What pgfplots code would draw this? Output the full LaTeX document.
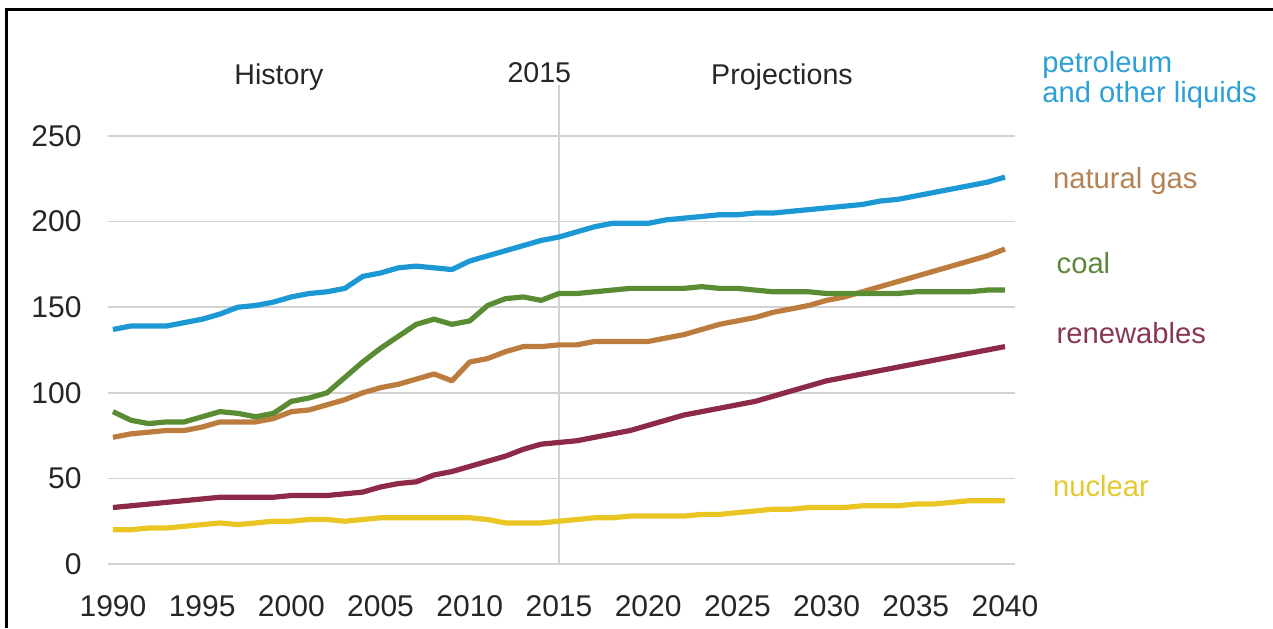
\documentclass[border=0pt]{standalone}
\usepackage{pgfplots}
\pgfplotsset{compat=1.18}
\usepackage{pgfplotstable}
\usepackage{fontspec}
\setmainfont{Liberation Sans}
\definecolor{petro}{RGB}{28,152,212}
\definecolor{petrolab}{RGB}{45,160,215}
\definecolor{gas}{RGB}{188,124,62}
\definecolor{gaslab}{RGB}{180,130,85}
\definecolor{coal}{RGB}{90,140,52}
\definecolor{coallab}{RGB}{95,135,60}
\definecolor{renew}{RGB}{140,42,72}
\definecolor{renewlab}{RGB}{135,55,85}
\definecolor{nuc}{RGB}{234,198,36}
\definecolor{nuclab}{RGB}{228,200,50}
\definecolor{gridc}{RGB}{210,210,210}

\pgfplotstableread{
year petro coal gas renew nuc
1990 137 89 74 33 20
1991 139 84 76 34 20
1992 139 82 77 35 21
1993 139 83 78 36 21
1994 141 83 78 37 22
1995 143 86 80 38 23
1996 146 89 83 39 24
1997 150 88 83 39 23
1998 151 86 83 39 24
1999 153 88 85 39 25
2000 156 95 89 40 25
2001 158 97 90 40 26
2002 159 100 93 40 26
2003 161 109 96 41 25
2004 168 118 100 42 26
2005 170 126 103 45 27
2006 173 133 105 47 27
2007 174 140 108 48 27
2008 173 143 111 52 27
2009 172 140 107 54 27
2010 177 142 118 57 27
2011 180 151 120 60 26
2012 183 155 124 63 24
2013 186 156 127 67 24
2014 189 154 127 70 24
2015 191 158 128 71 25
2016 194 158 128 72 26
2017 197 159 130 74 27
2018 199 160 130 76 27
2019 199 161 130 78 28
2020 199 161 130 81 28
2021 201 161 132 84 28
2022 202 161 134 87 28
2023 203 162 137 89 29
2024 204 161 140 91 29
2025 204 161 142 93 30
2026 205 160 144 95 31
2027 205 159 147 98 32
2028 206 159 149 101 32
2029 207 159 151 104 33
2030 208 158 154 107 33
2031 209 158 156 109 33
2032 210 158 159 111 34
2033 212 158 162 113 34
2034 213 158 165 115 34
2035 215 159 168 117 35
2036 217 159 171 119 35
2037 219 159 174 121 36
2038 221 159 177 123 37
2039 223 160 180 125 37
2040 226 160 184 127 37
}\datatable

\begin{document}
\begin{tikzpicture}
\path[use as bounding box] (0,0) rectangle (636.5pt,314pt);
\draw[black, line width=1.5pt] (3pt,0) -- (3pt,309pt) -- (636.5pt,309pt);
\begin{axis}[
  at={(53.8pt,32pt)}, anchor=south west,
  scale only axis, width=453.6pt, height=214pt,
  xmin=1989.7, xmax=2040.55, ymin=0, ymax=250,
  xtick={1990,1995,...,2040}, ytick={0,50,...,250},
  axis line style={draw=none},
  major tick length=0pt,
  ymajorgrids, grid style={gridc, line width=0.8pt},
  clip=false,
  font=\fontsize{14.3pt}{17pt}\selectfont,
  tick label style={text=black!85, font=\fontsize{15pt}{17pt}\selectfont},
  /pgf/number format/assume math mode=true,
  /pgf/number format/1000 sep={},
  yticklabel style={xshift=-9.5pt},
  xticklabel style={yshift=-12pt},
  every axis plot/.append style={line width=2.6pt, line join=round},
]
\draw[gridc, line width=0.8pt] (axis cs:2015,0) -- (axis cs:2015,280);
\addplot[nuc] table[x=year,y=nuc]{\datatable};
\addplot[renew] table[x=year,y=renew]{\datatable};
\addplot[gas] table[x=year,y=gas]{\datatable};
\addplot[coal] table[x=year,y=coal]{\datatable};
\addplot[petro] table[x=year,y=petro]{\datatable};
\node[text=black!85] at (axis cs:1999.3,284.5) {History};
\node[text=black!85, fill=white, inner sep=1pt] at (axis cs:2013.9,287) {2015};
\node[text=black!85] at (axis cs:2027.5,284.5) {Projections};
\begin{scope}[every node/.style={font=\fontsize{14.6pt}{15pt}\selectfont}]
\node[text=petrolab, anchor=west, align=left] at (axis cs:2041.7,283) {petroleum\\and other liquids};
\node[text=gaslab, anchor=west] at (axis cs:2042.3,224) {natural gas};
\node[text=coallab, anchor=west] at (axis cs:2042.5,175.5) {coal};
\node[text=renewlab, anchor=west] at (axis cs:2042.5,135) {renewables};
\node[text=nuclab, anchor=west] at (axis cs:2042.3,45.5) {nuclear};
\end{scope}
\end{axis}
\end{tikzpicture}
\end{document}
